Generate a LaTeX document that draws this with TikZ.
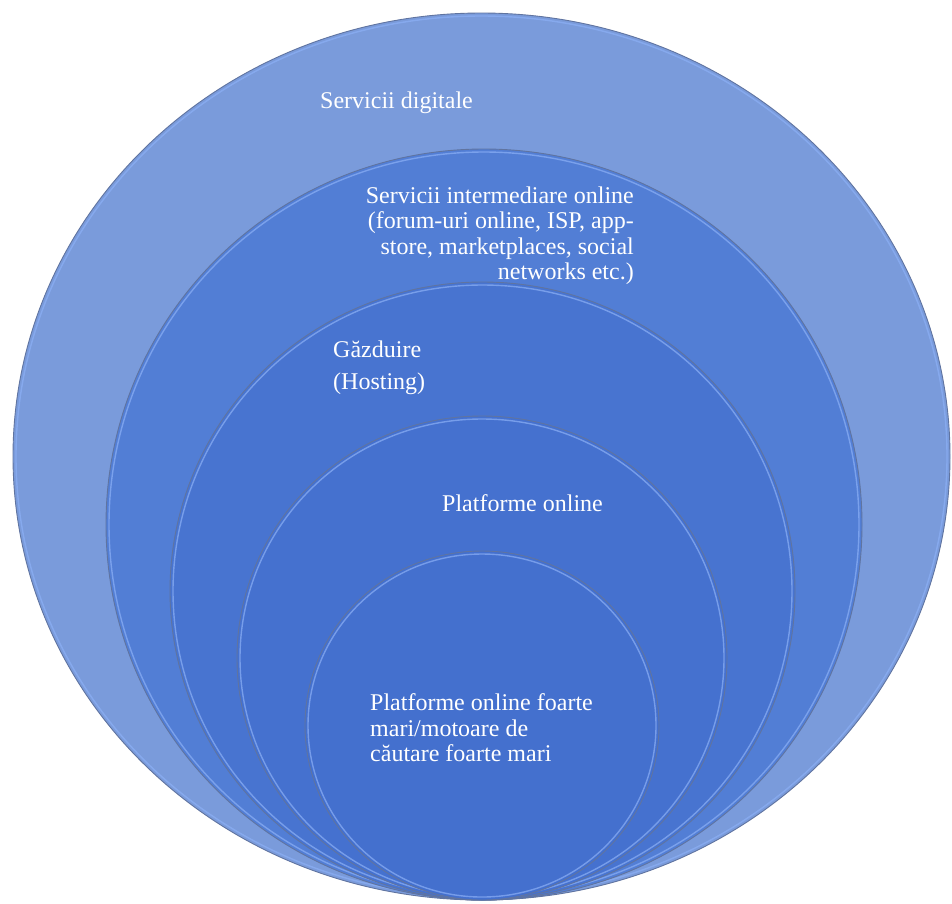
\documentclass[tikz,border=0pt]{standalone}
\usepackage{fontspec}
\setmainfont{Liberation Serif}
\usepackage{xcolor}
\usepackage{tikz}
\definecolor{ringa}{RGB}{122,155,219}
\definecolor{ringb}{RGB}{82,126,213}
\definecolor{ringc}{RGB}{72,116,208}
\definecolor{ringd}{RGB}{69,113,207}
\definecolor{ringe}{RGB}{68,112,206}
\definecolor{rimgray}{RGB}{96,116,160}
\definecolor{rimlight}{RGB}{140,176,246}

\tikzset{
  ring/.style={draw=rimgray, line width=0.9pt},
  rimhl/.style={draw=rimlight, line width=1.4pt, opacity=0.7},
  lbl/.style={text=white, inner sep=0pt, font=\fontsize{24}{25.5}\selectfont}
}

\begin{document}
\begin{tikzpicture}[x=1pt, y=-1pt]
          \useasboundingbox (0,0) rectangle (952,903);
          \fill[white] (0,0) rectangle (952,903);
          \draw[ring, fill=ringa] (481.5,456.5) ellipse [x radius=468.5pt, y radius=443.5pt];
          \draw[rimhl] (481.5,456.5) ellipse [x radius=465.5pt, y radius=440.5pt];
          \draw[ring, fill=ringb] (484,524.5) ellipse [x radius=378pt, y radius=375.5pt];
          \draw[rimhl] (484,524.5) ellipse [x radius=375pt, y radius=372.5pt];
          \draw[ring, fill=ringc] (482.5,591) ellipse [x radius=312.5pt, y radius=309pt];
          \draw[rimhl] (482.5,591) ellipse [x radius=309.5pt, y radius=306pt];
          \draw[ring, fill=ringd] (482,658) ellipse [x radius=245pt, y radius=242pt];
          \draw[rimhl] (482,658) ellipse [x radius=242pt, y radius=239pt];
          \draw[ring, fill=ringe] (482,725.5) ellipse [x radius=177pt, y radius=174.5pt];
          \draw[rimhl] (482,725.5) ellipse [x radius=174pt, y radius=171.5pt];
          \node[lbl, anchor=base west] (digital) at (320,108) {Servicii digitale};
          \node[lbl, anchor=north east, align=right] (intermed) at (634,186.6)
            {Servicii intermediare online\\(forum-uri online, ISP, app-\\store, marketplaces, social\\networks etc.)};
          \node[lbl, anchor=north west, align=left] (hosting) at (333,340.6) {Găzduire\\[6.5pt](Hosting)};
          \node[lbl, anchor=base west] (platf) at (442,511) {Platforme online};
          \node[lbl, anchor=north west, align=left] (vlop) at (370,693.6)
            {Platforme online foarte\\mari/motoare de\\căutare foarte mari};
        \end{tikzpicture}
\end{document}
